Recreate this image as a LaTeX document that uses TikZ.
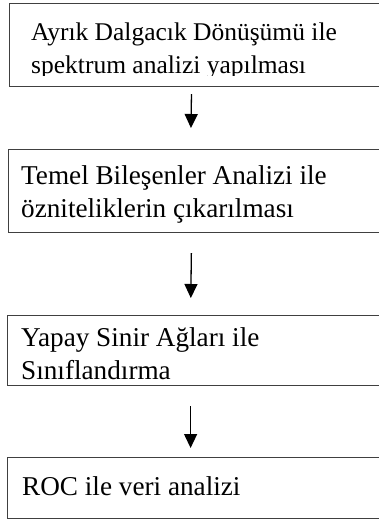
\documentclass[tikz,border=0pt]{standalone}
\usepackage{fontspec}
\setmainfont{Liberation Serif}
\usepackage{xcolor}
\usepackage{tikz}
\usetikzlibrary{arrows.meta, positioning}
\definecolor{cframe}{RGB}{64,64,64}
\tikzset{
  bb/.style={rectangle, draw=cframe, line width=1.2pt, anchor=north west,
             minimum width=386pt, inner sep=0pt},
  txt/.style={anchor=north west, inner sep=0pt, align=left,
              font=\fontsize{#1}{33}\selectfont},
  txt/.default=27.2,
  arr/.style={-{Triangle[length=14pt,width=13pt]}, line width=1.3pt, color=black},
}
\begin{document}
\begin{tikzpicture}[x=1pt, y=-1pt]
  \clip (0,0) rectangle (379,520);
  % ── Boxes ──────────────────────────────────────────────────────────────────
  \node[bb, minimum height=83pt] at (9,3)   (dwt) {};
  \node[bb, minimum height=83pt] at (8,149) (pca) {};
  \node[bb, minimum height=70pt] at (7,315) (ysa) {};
  \node[bb, minimum height=61pt] at (7,457) (roc) {};

  % ── Texts ──────────────────────────────────────────────────────────────────
  \begin{scope}
    \clip (9,3) rectangle (379,75);
    \node[txt=25.5] at (31,16.9) (dwtT)
        {\strut Ayrık Dalgacık Dönüşümü ile\\spektrum analizi yapılması};
  \end{scope}
  \node[txt] at (21,160.9) (pcaT)
      {\strut Temel Bileşenler Analizi ile\\özniteliklerin çıkarılması};
  \node[txt] at (21,323.5) (ysaT)
      {\strut Yapay Sinir Ağları ile\\Sınıflandırma};
  \node[txt] at (22,471.9) (rocT)
      {\strut ROC ile veri analizi};

  % ── Arrows ─────────────────────────────────────────────────────────────────
  \draw[arr, shorten <=7pt,  shorten >=21pt] ([xshift=-11pt]dwt.south) -- ([xshift=-11pt]pca.north);
  \draw[arr, shorten <=20pt, shorten >=17pt] ([xshift=-10pt]pca.south) -- ([xshift=-10pt]ysa.north);
  \draw[arr, shorten <=20pt, shorten >=9pt]  ([xshift=-10pt]ysa.south) -- ([xshift=-10pt]roc.north);
\end{tikzpicture}
\end{document}
